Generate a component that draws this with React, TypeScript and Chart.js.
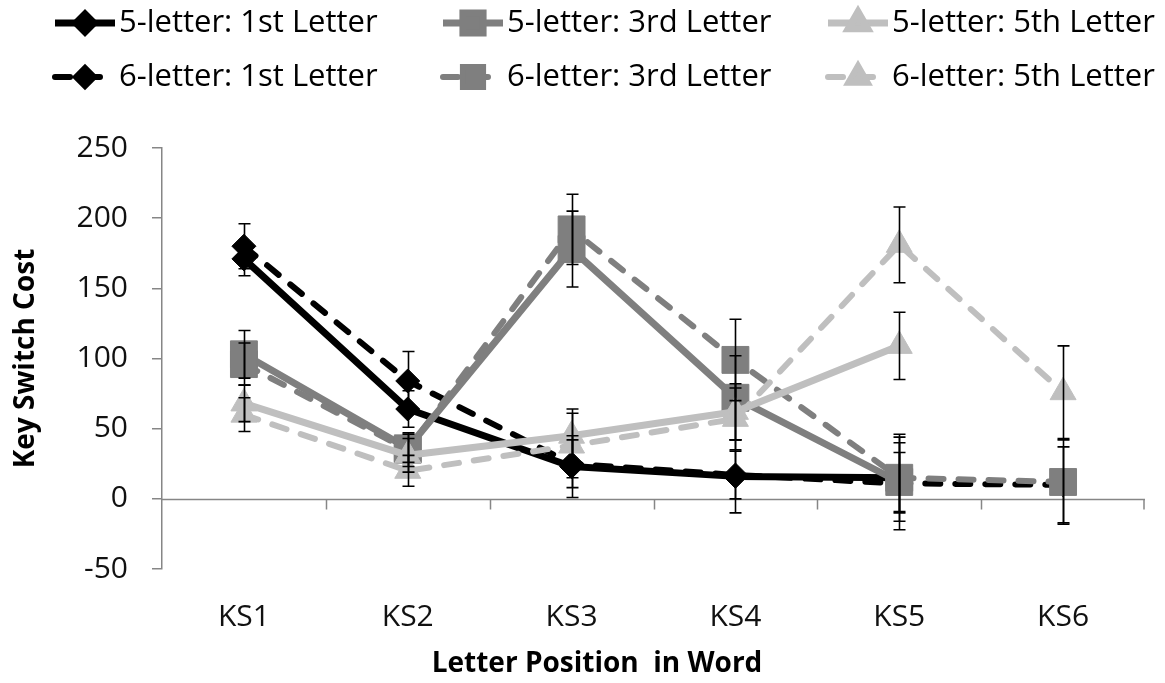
import React, { useEffect, useRef } from 'react';
import { Chart, registerables } from 'chart.js';
import { drawPoint } from 'chart.js/helpers';

Chart.register(...registerables);

// ---------- data ----------
const categories = ['KS1', 'KS2', 'KS3', 'KS4', 'KS5', 'KS6'];
const seriesNames = [
  '5-letter: 1st Letter',
  '6-letter: 1st Letter',
  '5-letter: 3rd Letter',
  '6-letter: 3rd Letter',
  '5-letter: 5th Letter',
  '6-letter: 5th Letter',
];
const five1st = [171, 64, 23, 16, 15, null];
const five1stErr = [12, 13, 22, 26, 25, null];
const six1st = [180, 84, 25, 17, 11, 10];
const six1stErr = [16, 21, 17, 17, 33, 27];
const five3rd = [103, 36, 178, 72, 12, null];
const five3rdErr = [17, 10, 27, 30, 21, null];
const six3rd = [96, 35, 192, 99, 15, 12];
const six3rdErr = [15, 12, 25, 29, 31, 30];
const five5th = [68, 31, 45, 62, 109, null];
const five5thErr = [13, 12, 19, 20, 24, null];
const six5th = [60, 20, 38, 57, 181, 76];
const six5thErr = [12, 11, 23, 22, 27, 33];
const yMin = -50;
const yMax = 250;
const yStep = 50;
const xTitle = 'Letter Position  in Word';
const yTitle = 'Key Switch Cost';

// ---------- styles ----------
const FONT = "'Open Sans', 'DejaVu Sans', sans-serif";
const BLACK = '#000000';
const GRAY = '#7f7f7f';
const LIGHT = '#bfbfbf';
const AXIS = '#868686';

const seriesValues = [five1st, six1st, five3rd, six3rd, five5th, six5th];
const seriesErrors = [five1stErr, six1stErr, five3rdErr, six3rdErr, five5thErr, six5thErr];
const seriesColors = [BLACK, BLACK, GRAY, GRAY, LIGHT, LIGHT];
const seriesStyles = ['rectRot', 'rectRot', 'rect', 'rect', 'triangle', 'triangle'];
const seriesRadius = [12, 12, 19, 19, 15, 15];

const errorBarPlugin = {
  id: 'errorBars',
  afterDatasetsDraw(chart: any) {
    const { ctx, scales } = chart;
    const y = scales.y;
    ctx.save();
    ctx.strokeStyle = '#000';
    ctx.lineWidth = 1.6;
    seriesErrors.forEach((errs, d) => {
      const meta = chart.getDatasetMeta(d);
      errs.forEach((e, j) => {
        const v = seriesValues[d][j];
        if (e == null || v == null) return;
        const pt = meta.data[j];
        if (!pt) return;
        const px = Math.round(pt.x) + 0.5;
        const top = y.getPixelForValue(v + e);
        const bot = y.getPixelForValue(v - e);
        ctx.beginPath();
        ctx.moveTo(px, top);
        ctx.lineTo(px, bot);
        ctx.moveTo(px - 6, top);
        ctx.lineTo(px + 6, top);
        ctx.moveTo(px - 6, bot);
        ctx.lineTo(px + 6, bot);
        ctx.stroke();
      });
    });
    ctx.restore();
  },
};

const zeroAxisPlugin = {
  id: 'zeroAxis',
  beforeDatasetsDraw(chart: any) {
    const { ctx, chartArea, scales } = chart;
    const x = scales.x;
    const py = Math.round(scales.y.getPixelForValue(0)) + 0.5;
    ctx.save();
    ctx.strokeStyle = AXIS;
    ctx.lineWidth = 1.5;
    ctx.beginPath();
    ctx.moveTo(chartArea.left, py);
    ctx.lineTo(chartArea.right, py);
    for (let i = 0; i < categories.length; i++) {
      const px = Math.min(Math.round(x.getPixelForValue(i + 0.5)) + 0.5, chartArea.right - 1);
      ctx.moveTo(px, py);
      ctx.lineTo(px, py + 10);
    }
    ctx.stroke();
    ctx.restore();
  },
};

const legendSampleX = [52, 440, 825];
const legendTextX = [119, 507, 892];
const legendRowY = [23, 77];

const overlayPlugin = {
  id: 'overlay',
  afterDraw(chart: any) {
    const { ctx } = chart;
    ctx.save();
    chart.data.datasets.forEach((ds: any, i: number) => {
      const col = Math.floor(i / 2);
      const row = i % 2;
      const x0 = legendSampleX[col];
      const x1 = legendTextX[col] - 1;
      const yy = legendRowY[row];
      ctx.strokeStyle = ds.borderColor;
      ctx.lineWidth = ds.borderWidth;
      ctx.lineCap = ds.borderCapStyle || 'butt';
      ctx.setLineDash(ds.borderDash || []);
      ctx.beginPath();
      ctx.moveTo(x0 + 3, yy);
      ctx.lineTo(x1 - 3, yy);
      ctx.stroke();
      ctx.setLineDash([]);
      ctx.fillStyle = ds.pointBackgroundColor;
      ctx.strokeStyle = ds.pointBorderColor;
      drawPoint(ctx, { pointStyle: ds.pointStyle, rotation: 0, radius: ds.pointRadius * 0.75, borderWidth: 1 }, (x0 + x1) / 2, yy);
      ctx.fillStyle = '#000';
      ctx.font = `31px ${FONT}`;
      ctx.textBaseline = 'middle';
      ctx.textAlign = 'left';
      ctx.fillText(ds.label, legendTextX[col], yy);
    });
    // x-axis title
    ctx.fillStyle = '#000';
    ctx.font = `bold 28px ${FONT}`;
    ctx.textAlign = 'center';
    ctx.textBaseline = 'middle';
    ctx.fillText(xTitle, 597, 664);
    ctx.restore();
  },
};

export default function App() {
  const ref = useRef<HTMLCanvasElement>(null);
  useEffect(() => {
    document.body.style.margin = '0';
    const datasets = seriesNames.map((name, i) => {
      const dashed = name.startsWith('6');
      return {
        label: name,
        data: seriesValues[i],
        order: seriesNames.length - i,
        borderColor: seriesColors[i],
        backgroundColor: seriesColors[i],
        borderWidth: dashed ? 6 : 7,
        borderDash: dashed ? [15, 15] : [],
        borderCapStyle: dashed ? 'round' : 'butt',
        borderJoinStyle: 'round',
        pointStyle: seriesStyles[i],
        pointRadius: seriesRadius[i],
        pointBackgroundColor: seriesColors[i],
        pointBorderColor: seriesColors[i],
        pointBorderWidth: 1,
        tension: 0,
        fill: false,
        spanGaps: false,
      };
    });
    const chart = new Chart(ref.current!, {
      type: 'line',
      data: { labels: categories, datasets: datasets as any },
      plugins: [zeroAxisPlugin, errorBarPlugin, overlayPlugin],
      options: {
        responsive: false,
        animation: false,
        devicePixelRatio: 1,
        layout: { padding: { top: 148, left: 0, right: 0, bottom: 0 } },
        plugins: {
          legend: { display: false },
          tooltip: { enabled: false },
        },
        scales: {
          x: {
            type: 'category',
            offset: true,
            grid: { display: false, drawTicks: false },
            border: { display: false },
            ticks: { color: '#111', font: { family: FONT, size: 30 }, padding: 30 },
            title: { display: false, text: xTitle },
            afterFit: (scale: any) => {
              scale.height = 114;
            },
          },
          y: {
            min: yMin,
            max: yMax,
            ticks: {
              stepSize: yStep,
              color: '#111',
              font: { family: FONT, size: 30 },
              padding: 24,
            },
            grid: {
              drawOnChartArea: false,
              drawTicks: true,
              tickLength: 10,
              color: AXIS,
              lineWidth: 1.5,
            },
            border: { display: true, color: AXIS, width: 1.5 },
            title: {
              display: true,
              text: yTitle,
              color: '#000',
              font: { family: FONT, size: 28, weight: 'bold' },
              padding: { top: 9, bottom: 0 },
            },
            afterFit: (scale: any) => {
              scale.width = 162;
            },
          },
        },
      } as any,
    });
    return () => chart.destroy();
  }, []);
  return (
    <div style={{ width: 1165, height: 683 }}>
      <canvas ref={ref} width={1165} height={683} style={{ display: 'block' }} />
    </div>
  );
}
